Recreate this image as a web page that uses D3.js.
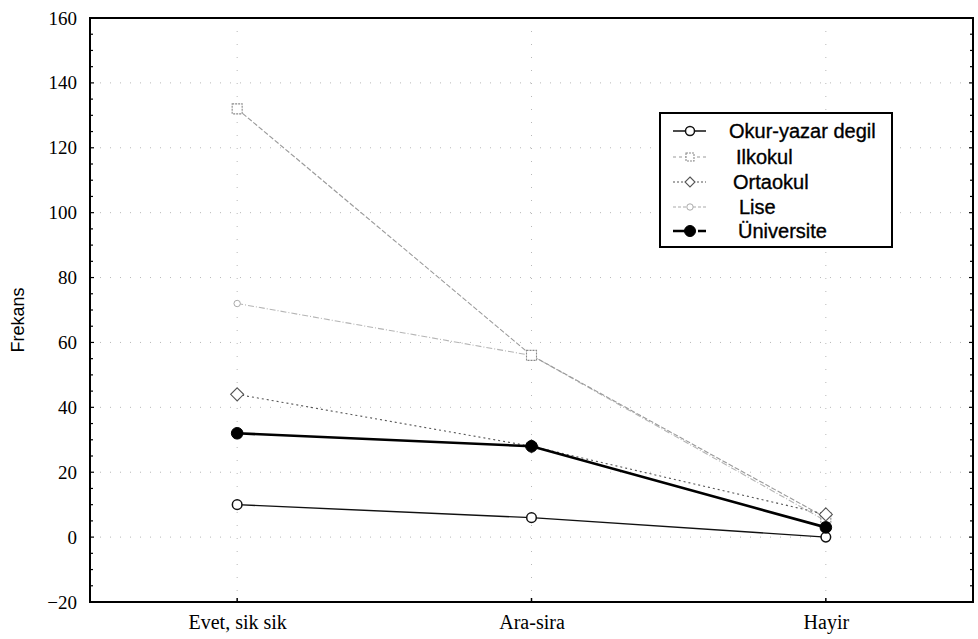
<!DOCTYPE html>
<html>
<head>
<meta charset="utf-8">
<script src="https://cdn.jsdelivr.net/npm/d3@7"></script>
<style>
  html, body { margin: 0; padding: 0; background: #fff; }
  svg { display: block; }
</style>
</head>
<body>
<svg id="chart" width="978" height="639"></svg>
<script>
// ---- data ----
const categories = ["Evet, sik sik", "Ara-sira", "Hayir"];
const seriesNames = ["Okur-yazar degil", "Ilkokul", "Ortaokul", "Lise", "Üniversite"];
const okurYazarDegil = [10, 6, 0];
const ilkokul = [132, 56, 6];
const ortaokul = [44, 28, 7];
const lise = [72, 56, 5];
const universite = [32, 28, 3];
const yTicks = [-20, 0, 20, 40, 60, 80, 100, 120, 140, 160];
const yLabel = "Frekans";

const seriesValues = [okurYazarDegil, ilkokul, ortaokul, lise, universite];

(function () {
// ---- styles (per series) ----
const styles = [
  { stroke: "#111", width: 1.4, dash: null, marker: "circle", size: 4.8, fill: "#fff", mstroke: "#111", mwidth: 1.5, legendDash: null },
  { stroke: "#9a9a9a", width: 1.1, dash: "5,2", marker: "square", size: 10, fill: "#fff", mstroke: "#8a8a8a", mwidth: 1.1, legendDash: "3,3" },
  { stroke: "#555", width: 1.1, dash: "2,3", marker: "diamond", size: 6.5, fill: "#fff", mstroke: "#555", mwidth: 1.1, legendDash: "2,2" },
  { stroke: "#b5b5b5", width: 1.1, dash: "6,2,1,2", marker: "circle", size: 3.2, fill: "#fff", mstroke: "#aaa", mwidth: 1, legendDash: "3,2" },
  { stroke: "#000", width: 2.6, dash: null, marker: "circle", size: 5.8, fill: "#000", mstroke: "#000", mwidth: 1, legendDash: "17,8,8" }
];

const svg = d3.select("#chart");
const pLeft = 90, pRight = 973, pTop = 18, pBottom = 602;

const x = d3.scalePoint().domain(categories).range([pLeft, pRight]).padding(0.5);
const y = d3.scaleLinear().domain([-20, 160]).range([pBottom, pTop]);

// grid
const grid = svg.append("g");
grid.selectAll(".hg").data(yTicks.filter(t => t > -20 && t < 160)).enter()
  .append("line")
  .attr("x1", pLeft).attr("x2", pRight)
  .attr("y1", d => y(d)).attr("y2", d => y(d))
  .attr("stroke", "#b8b8b8").attr("stroke-width", 1)
  .attr("stroke-dasharray", "1,9");
grid.selectAll(".vg").data(categories).enter()
  .append("line")
  .attr("x1", d => x(d)).attr("x2", d => x(d))
  .attr("y1", pTop).attr("y2", pBottom)
  .attr("stroke", "#b8b8b8").attr("stroke-width", 1)
  .attr("stroke-dasharray", "1,12");

// frame
svg.append("rect")
  .attr("x", pLeft).attr("y", pTop)
  .attr("width", pRight - pLeft).attr("height", pBottom - pTop)
  .attr("fill", "none").attr("stroke", "#000").attr("stroke-width", 2);

// left axis
const yAxis = d3.axisLeft(y).tickValues(yTicks).tickSize(0).tickPadding(13).tickFormat(d3.format("d"));
const ya = svg.append("g").attr("transform", `translate(${pLeft},0)`).call(yAxis);
ya.select(".domain").remove();
ya.selectAll("text")
  .attr("font-family", "'Liberation Serif', 'Times New Roman', serif")
  .attr("font-size", 19).attr("fill", "#000");

// inner minor ticks left & right
const minor = d3.range(-20, 161, 5);
svg.append("g").selectAll("line").data(minor).enter().append("line")
  .attr("x1", pLeft).attr("x2", d => pLeft + (d % 20 === 0 ? 4 : 3))
  .attr("y1", d => y(d)).attr("y2", d => y(d))
  .attr("stroke", "#000").attr("stroke-width", 1.2);
svg.append("g").selectAll("line").data(minor).enter().append("line")
  .attr("x1", pRight).attr("x2", d => pRight - (d % 20 === 0 ? 4 : 3))
  .attr("y1", d => y(d)).attr("y2", d => y(d))
  .attr("stroke", "#000").attr("stroke-width", 1.2);

// bottom axis
const xAxis = d3.axisBottom(x).tickSize(0).tickPadding(13);
const xa = svg.append("g").attr("transform", `translate(0,${pBottom})`).call(xAxis);
xa.select(".domain").remove();
xa.selectAll("text")
  .attr("font-family", "'Liberation Serif', 'Times New Roman', serif")
  .attr("font-size", 20).attr("fill", "#000");
svg.append("g").selectAll("line").data(categories).enter().append("line")
  .attr("x1", d => x(d)).attr("x2", d => x(d))
  .attr("y1", pBottom).attr("y2", pBottom - 4)
  .attr("stroke", "#000").attr("stroke-width", 1.5);

// y label
svg.append("text")
  .attr("transform", `translate(24,${(pTop + pBottom) / 2 + 10}) rotate(-90)`)
  .attr("text-anchor", "middle")
  .attr("font-family", "'Liberation Sans', Arial, sans-serif")
  .attr("font-size", 18).attr("fill", "#000")
  .text(yLabel);

// markers
function drawMarker(g, st, cx, cy) {
  if (st.marker === "circle") {
    g.append("circle").attr("cx", cx).attr("cy", cy).attr("r", st.size)
      .attr("fill", st.fill).attr("stroke", st.mstroke).attr("stroke-width", st.mwidth);
  } else if (st.marker === "square") {
    const s = st.size;
    g.append("rect").attr("x", cx - s / 2).attr("y", cy - s / 2).attr("width", s).attr("height", s)
      .attr("fill", st.fill).attr("stroke", st.mstroke).attr("stroke-width", st.mwidth)
      .attr("stroke-dasharray", "2,1");
  } else if (st.marker === "diamond") {
    const s = st.size;
    g.append("path").attr("d", `M${cx},${cy - s}L${cx + s},${cy}L${cx},${cy + s}L${cx - s},${cy}Z`)
      .attr("fill", st.fill).attr("stroke", st.mstroke).attr("stroke-width", st.mwidth);
  }
}

// lines (draw order: lighter first, darker on top)
const order = [3, 1, 2, 0, 4];
const line = d3.line().x((d, i) => x(categories[i])).y(d => y(d));
order.forEach(si => {
  const st = styles[si];
  const g = svg.append("g");
  g.append("path").datum(seriesValues[si])
    .attr("d", line).attr("fill", "none")
    .attr("stroke", st.stroke).attr("stroke-width", st.width)
    .attr("stroke-dasharray", st.dash);
  seriesValues[si].forEach((v, i) => drawMarker(g, st, x(categories[i]), y(v)));
});

// legend
const lg = svg.append("g");
lg.append("rect").attr("x", 660).attr("y", 113).attr("width", 232).attr("height", 134)
  .attr("fill", "#fff").attr("stroke", "#000").attr("stroke-width", 2);
const legY = [131, 157, 182, 207, 231];
const legTextX = [729, 736, 733, 739, 738];
seriesNames.forEach((name, i) => {
  const st = styles[i];
  const ly = legY[i];
  lg.append("line").attr("x1", 673).attr("x2", 706).attr("y1", ly).attr("y2", ly)
    .attr("stroke", i === 3 ? "#aaa" : st.stroke).attr("stroke-width", i === 4 ? 2.6 : st.width)
    .attr("stroke-dasharray", st.legendDash);
  const ms = Object.assign({}, st);
  if (st.marker === "square") ms.size = 8;
  if (st.marker === "diamond") ms.size = 5;
  if (i === 0) ms.size = 4.5;
  if (i === 4) ms.size = 5.5;
  drawMarker(lg, ms, 690, ly);
  lg.append("text").attr("x", legTextX[i]).attr("y", ly + 7)
    .attr("font-family", "'Liberation Sans', Arial, sans-serif")
    .attr("font-size", 20).attr("fill", "#000")
    .attr("stroke", "#000").attr("stroke-width", 0.35)
    .text(name);
});
})();
</script>
</body>
</html>
